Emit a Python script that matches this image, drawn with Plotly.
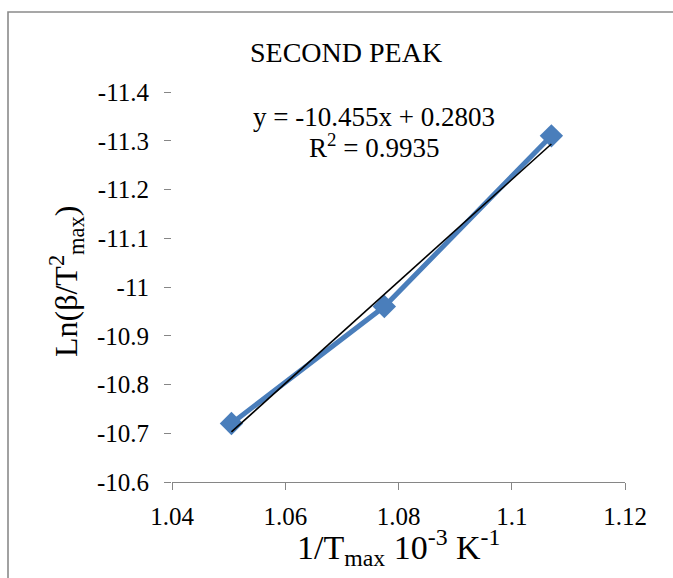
import plotly.graph_objects as go

# ---- data ----
x_vals = [1.0505, 1.0775, 1.107]
y_vals = [-10.72, -10.96, -11.31]
trend_slope = -10.455
trend_intercept = 0.2803
r_squared = 0.9935
x_ticks = [1.04, 1.06, 1.08, 1.1, 1.12]
x_tick_labels = ["1.04", "1.06", "1.08", "1.1", "1.12"]
y_ticks = [-11.4, -11.3, -11.2, -11.1, -11.0, -10.9, -10.8, -10.7, -10.6]
y_tick_labels = ["-11.4", "-11.3", "-11.2", "-11.1", "-11", "-10.9", "-10.8", "-10.7", "-10.6"]
chart_title = "SECOND PEAK"
x_title = "1/T<sub>max</sub> 10<sup>-3</sup> K<sup>-1</sup>"
y_title = "Ln(β/T<sup>2</sup><sub>max</sub>)"

# ---- layout geometry (pixels) ----
W, H = 673, 578
L, R, T, B = 172, 625, 92, 482
FONT = "Liberation Serif"


def px(xp):
    return (xp - L) / (R - L)


def py(yp):
    return (B - yp) / (B - T)


trend_x = [min(x_vals), max(x_vals)]
trend_y = [trend_slope * v + trend_intercept for v in trend_x]

fig = go.Figure()
fig.add_trace(go.Scatter(
    x=x_vals, y=y_vals, mode="lines+markers",
    line=dict(color="#4A7EBB", width=5),
    marker=dict(symbol="diamond", size=18, color="#4A7EBB"),
    showlegend=False, hoverinfo="skip",
))
fig.add_trace(go.Scatter(
    x=trend_x, y=trend_y, mode="lines",
    line=dict(color="black", width=1.6),
    showlegend=False, hoverinfo="skip",
))

tick_font = dict(family=FONT, size=25, color="black")

fig.update_layout(
    width=W, height=H,
    margin=dict(l=L, r=W - R, t=T, b=H - B),
    paper_bgcolor="white", plot_bgcolor="white",
    xaxis=dict(range=[1.04, 1.12], tickvals=x_ticks, ticktext=x_tick_labels,
               showgrid=False, zeroline=False, showline=True, linecolor="#868686", linewidth=1.3,
               ticks="outside", ticklen=7, tickcolor="#868686", tickwidth=1.3,
               ticklabelstandoff=5, tickfont=tick_font),
    yaxis=dict(range=[-10.6, -11.4], tickvals=y_ticks, ticktext=y_tick_labels,
               showgrid=False, zeroline=False, showline=False,
               ticks="outside", ticklen=7, tickcolor="#868686", tickwidth=1.3,
               ticklabelstandoff=10, tickfont=tick_font),
    shapes=[dict(type="rect", xref="paper", yref="paper",
                 x0=px(8), x1=px(720), y0=py(640), y1=py(12),
                 line=dict(color="#8A8A8A", width=1.6), fillcolor="rgba(0,0,0,0)", layer="below")],
    annotations=[
        dict(text=chart_title, xref="paper", yref="paper", x=px(346), y=py(53),
             showarrow=False, xanchor="center", yanchor="middle",
             font=dict(family=FONT, size=28, color="black")),
        dict(text="y = %.3fx + %.4f" % (trend_slope, trend_intercept), xref="paper", yref="paper",
             x=px(374), y=py(117), showarrow=False, xanchor="center", yanchor="middle",
             font=dict(family=FONT, size=27, color="black")),
        dict(text="R<sup>2</sup> = %.4f" % r_squared, xref="paper", yref="paper",
             x=px(374), y=py(146), showarrow=False, xanchor="center", yanchor="middle",
             font=dict(family=FONT, size=27, color="black")),
        dict(text=x_title, xref="paper", yref="paper", x=px(398), y=py(547),
             showarrow=False, xanchor="center", yanchor="middle",
             font=dict(family=FONT, size=34, color="black")),
        dict(text=y_title, xref="paper", yref="paper", x=px(66), y=py(282),
             showarrow=False, xanchor="center", yanchor="middle", textangle=-90,
             font=dict(family=FONT, size=32, color="black")),
    ],
)

fig.write_html("out.html")
